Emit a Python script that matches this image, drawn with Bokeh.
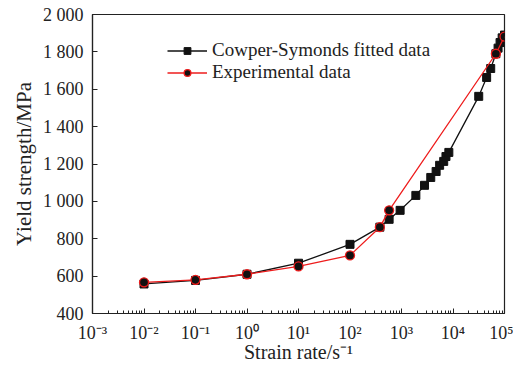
from bokeh.plotting import figure
from bokeh.models import FixedTicker, Legend, LegendItem, ColumnDataSource
from bokeh.embed import file_html
from bokeh.resources import INLINE

# Data
fit_rate = [0.01, 0.1, 1, 10, 100, 380, 575, 940, 1900, 2800, 3700, 4700, 5500, 6600,
            7300, 8300, 31600, 45000, 54000, 68000, 75000, 82000, 90000, 100000]
fit_ys = [558, 577, 610, 669, 770, 862, 904, 952, 1032, 1086, 1128, 1160, 1193, 1214,
          1240, 1262, 1562, 1663, 1711, 1790, 1820, 1850, 1875, 1890]
exp_rate = [0.01, 0.1, 1, 10, 100, 380, 575, 68000, 100000]
exp_ys = [567, 580, 610, 652, 711, 862, 952, 1790, 1882]

x_ticks = [1e-3, 1e-2, 1e-1, 1e0, 1e1, 1e2, 1e3, 1e4, 1e5]
x_labels = ["10⁻³", "10⁻²", "10⁻¹", "10⁰", "10¹", "10²", "10³", "10⁴", "10⁵"]
y_ticks = [400, 600, 800, 1000, 1200, 1400, 1600, 1800, 2000]
y_labels = ["400", "600", "800", "1 000", "1 200", "1 400", "1 600", "1 800", "2 000"]

FONT = "Liberation Serif"

p = figure(width=513, height=365, x_axis_type="log", x_range=(1e-3, 1e5), y_range=(400, 2000),
           output_backend="svg", toolbar_location=None,
           min_border_left=92, min_border_right=9, min_border_top=14, min_border_bottom=52)
p.grid.visible = False
p.outline_line_color = "#222222"
p.outline_line_width = 1.2
p.background_fill_color = "white"

minor = [m * t for t in x_ticks[:-1] for m in range(2, 10)]
p.xaxis.ticker = FixedTicker(ticks=x_ticks, minor_ticks=minor)
p.xaxis.major_label_overrides = {t: l for t, l in zip(x_ticks, x_labels)}
p.yaxis.ticker = FixedTicker(ticks=y_ticks)
p.yaxis.major_label_overrides = {t: l for t, l in zip(y_ticks, y_labels)}

for ax in (p.xaxis, p.yaxis):
    ax.axis_line_color = "#222222"
    ax.axis_line_width = 1.2
    ax.major_tick_in = 5
    ax.major_tick_out = 0
    ax.minor_tick_in = 3
    ax.minor_tick_out = 0
    ax.major_tick_line_color = "#222222"
    ax.minor_tick_line_color = "#222222"
    ax.major_label_text_font = FONT
    ax.major_label_text_font_size = "18px"
    ax.major_label_text_color = "#222222"
    ax.axis_label_text_font = FONT
    ax.axis_label_text_font_size = "21px"
    ax.axis_label_text_font_style = "normal"
    ax.axis_label_text_color = "#222222"
p.yaxis.minor_tick_in = 0
p.xaxis.axis_label_text_font_size = "20px"
p.xaxis.axis_label = "Strain rate/s⁻¹"
p.yaxis.axis_label = "Yield strength/MPa"
p.xaxis.major_label_standoff = 9
p.xaxis.axis_label_standoff = -5
p.yaxis.major_label_standoff = 9
p.yaxis.axis_label_standoff = 4

fs = ColumnDataSource(dict(x=fit_rate, y=fit_ys))
es = ColumnDataSource(dict(x=exp_rate, y=exp_ys))

fl = p.line("x", "y", source=fs, line_color="#111111", line_width=1.3)
fm = p.scatter("x", "y", source=fs, marker="square", size=8, fill_color="#111111", line_color="#111111")
el = p.line("x", "y", source=es, line_color="#ee1c1c", line_width=1.3)
em = p.scatter("x", "y", source=es, marker="circle", size=9, fill_color="#111111", line_color="#ee1c1c", line_width=1.3)


def make_legend(label, renderers, loc):
    lg = Legend(items=[LegendItem(label=label, renderers=renderers)], location=loc)
    lg.label_text_font = FONT
    lg.label_text_font_size = "19px"
    lg.label_text_color = "#222222"
    lg.border_line_color = None
    lg.background_fill_alpha = 0
    lg.padding = 0
    lg.spacing = 0
    lg.label_height = 17
    lg.glyph_height = 17
    lg.glyph_width = 40
    lg.label_standoff = 5
    lg.margin = 0
    p.add_layout(lg)


make_legend("Cowper-Symonds fitted data", [fl, fm], (75, 252))
make_legend("Experimental data", [el, em], (75, 230))

open("out.html", "w").write(file_html(p, INLINE))
